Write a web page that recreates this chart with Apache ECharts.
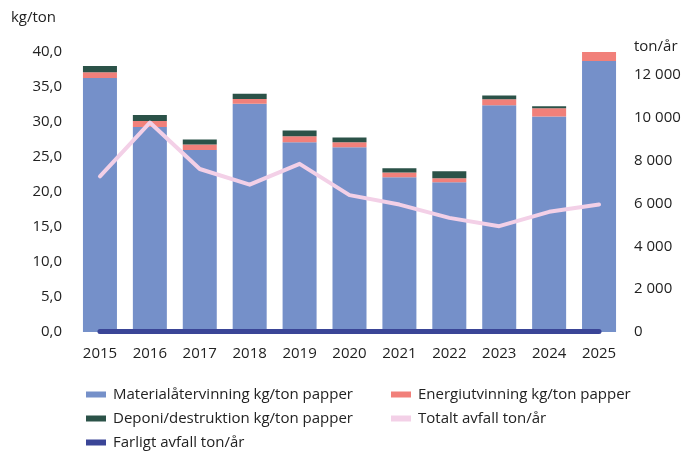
<!DOCTYPE html>
<html>
<head>
<meta charset="utf-8">
<script src="https://cdn.jsdelivr.net/npm/echarts@6/dist/echarts.min.js"></script>
<style>
  html, body { margin: 0; padding: 0; background: #fff; }
  #chart { width: 698px; height: 451px; }
</style>
</head>
<body>
<div id="chart"></div>
<script>
// år
const years = ['2015', '2016', '2017', '2018', '2019', '2020', '2021', '2022', '2023', '2024', '2025']
// kg/ton papper
const material = [36.3, 29.3, 26.0, 32.6, 27.1, 26.4, 22.1, 21.4, 32.4, 30.8, 38.7]
const energi = [0.8, 0.85, 0.8, 0.7, 0.85, 0.7, 0.7, 0.55, 0.85, 1.15, 1.4]
const deponi = [0.9, 0.85, 0.7, 0.75, 0.85, 0.7, 0.6, 1.0, 0.55, 0.3, 0]
// ton/år
const totalt = [7270, 9780, 7610, 6880, 7850, 6390, 5950, 5330, 4940, 5610, 5950]
const farligt = [20, 20, 20, 20, 20, 20, 20, 20, 20, 20, 20]

const font = '"Open Sans", "Noto Sans", sans-serif'
const textColor = '#222'
const fs = 15

const chart = echarts.init(document.getElementById('chart'))

// legenden i två kolumner
const legendBase = {
    orient: 'vertical',
    top: 382,
    height: 80,
    itemWidth: 20,
    itemHeight: 6,
    itemGap: 9,
    icon: 'rect',
    textStyle: { fontSize: fs, color: textColor, fontFamily: font, padding: [0, 0, 0, 2] }
}

const option = {
    animation: false,
    textStyle: { fontFamily: font },
    grid: { left: 75, right: 74, top: 52, bottom: 119 },
    legend: [
        Object.assign({}, legendBase, {
            left: 81,
            data: ['Materialåtervinning kg/ton papper', 'Deponi/destruktion kg/ton papper', 'Farligt avfall ton/år']
        }),
        Object.assign({}, legendBase, {
            left: 386,
            data: ['Energiutvinning kg/ton papper', 'Totalt avfall ton/år']
        })
    ],
    xAxis: {
        type: 'category',
        data: years,
        axisLine: { show: false },
        axisTick: { show: false },
        axisLabel: { color: textColor, fontSize: fs, margin: 14 }
    },
    yAxis: [
        {
            type: 'value',
            min: 0,
            max: 40,
            interval: 5,
            name: 'kg/ton',
            nameLocation: 'end',
            nameGap: 27,
            nameTextStyle: { color: textColor, fontSize: fs, align: 'right', padding: [0, 19, 0, 0] },
            axisLine: { show: false },
            axisTick: { show: false },
            splitLine: { show: false },
            axisLabel: {
                color: textColor,
                fontSize: fs,
                margin: 13,
                formatter: v => v.toFixed(1).replace('.', ',')
            }
        },
        {
            type: 'value',
            min: 0,
            max: 13074,
            interval: 2000,
            name: 'ton/år',
            nameLocation: 'end',
            nameGap: -2,
            nameTextStyle: { color: textColor, fontSize: fs, align: 'left', padding: [0, 0, 0, 10] },
            axisLine: { show: false },
            axisTick: { show: false },
            splitLine: { show: false },
            axisLabel: {
                color: textColor,
                fontSize: fs,
                margin: 10,
                formatter: v => (v % 2000 === 0 ? String(v).replace(/\B(?=(\d{3})+(?!\d))/g, ' ') : '')
            }
        }
    ],
    series: [
        {
            name: 'Materialåtervinning kg/ton papper',
            type: 'bar',
            stack: 'kg',
            barWidth: 34,
            itemStyle: { color: '#7590c9' },
            data: material
        },
        {
            name: 'Energiutvinning kg/ton papper',
            type: 'bar',
            stack: 'kg',
            barWidth: 34,
            itemStyle: { color: '#f1807a' },
            data: energi
        },
        {
            name: 'Deponi/destruktion kg/ton papper',
            type: 'bar',
            stack: 'kg',
            barWidth: 34,
            itemStyle: { color: '#2b5248' },
            data: deponi
        },
        {
            name: 'Totalt avfall ton/år',
            type: 'line',
            yAxisIndex: 1,
            symbol: 'none',
            itemStyle: { color: '#f3d0e7' },
            lineStyle: { color: '#f3d0e7', width: 4, cap: 'round', join: 'round' },
            data: totalt
        },
        {
            name: 'Farligt avfall ton/år',
            type: 'line',
            yAxisIndex: 1,
            symbol: 'none',
            clip: false,
            itemStyle: { color: '#3a4597' },
            lineStyle: { color: '#3a4597', width: 5, cap: 'round' },
            data: farligt
        }
    ]
}

chart.setOption(option)
</script>
</body>
</html>
